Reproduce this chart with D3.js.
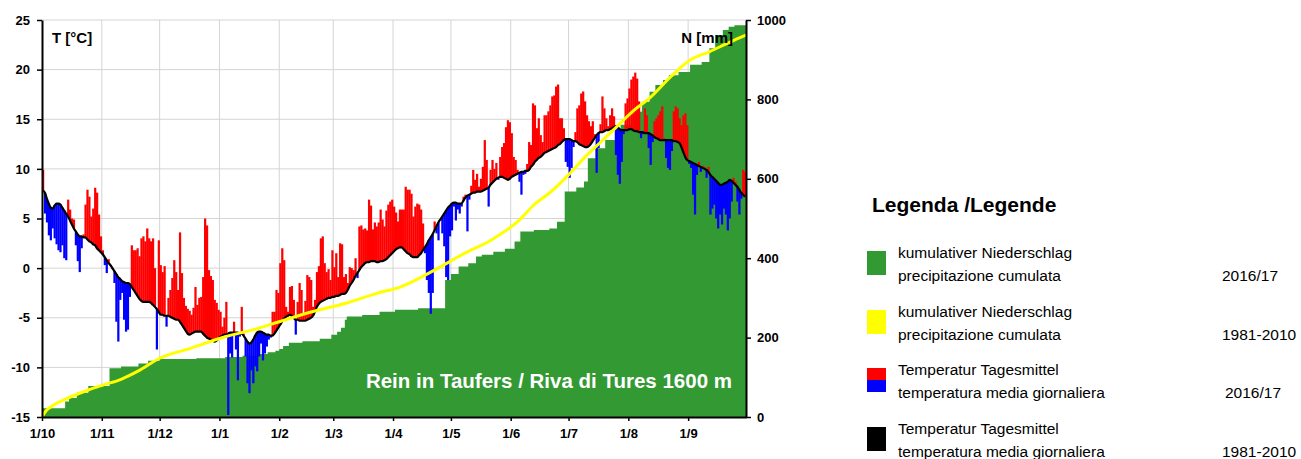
<!DOCTYPE html>
<html lang="de">
<head>
<meta charset="UTF-8">
<title>Rein in Taufers / Riva di Tures 2016/17</title>
<script src="https://d3js.org/d3.v7.min.js"></script>
<style>
  body { margin: 0; background: #fff; font-family: "Liberation Sans", Arial, sans-serif; }
  svg { display: block; }
</style>
</head>
<body>
<div id="chart"></div>
<script>
// Monatsanfänge (Tag ab 1. Oktober) und Beschriftung
const monthDays = [0, 31, 61, 92, 123, 151, 182, 212, 243, 273, 304, 335];
const monthLabels = ["1/10", "1/11", "1/12", "1/1", "1/2", "1/3", "1/4", "1/5", "1/6", "1/7", "1/8", "1/9"];
const tempTicks = [-15, -10, -5, 0, 5, 10, 15, 20, 25];
const precipTicks = [0, 200, 400, 600, 800, 1000];

// Tagesmittel 1981-2010 (°C), 1.10. - 30.9.
const tempClim = [
  7.8,7.6,7.0,6.5,6.1,6.0,6.3,6.5,6.5,6.4,6.1,5.8,5.5,5.2,4.8,4.4,4.0,3.7,3.4,3.2,3.2,3.1,3.1,2.9,2.7,2.6,2.4,2.3,2.0,1.8,1.6,
  1.4,1.1,0.8,0.5,0.3,0.0,-0.3,-0.6,-0.9,-1.1,-1.3,-1.4,-1.5,-1.5,-1.6,-1.9,-2.2,-2.5,-2.8,-3.1,-3.3,-3.4,-3.4,-3.4,-3.4,-3.5,-3.7,-3.9,-4.1,-4.4,
  -4.7,-4.7,-4.8,-4.8,-4.8,-4.9,-5.0,-5.1,-5.2,-5.2,-5.4,-5.7,-6.0,-6.3,-6.6,-6.7,-6.6,-6.5,-6.4,-6.4,-6.4,-6.4,-6.6,-6.8,-7.0,-7.1,-7.2,-7.3,-7.4,-7.3,-7.1,
  -6.9,-6.8,-6.7,-6.7,-6.6,-6.5,-6.5,-6.5,-6.5,-6.5,-6.6,-6.6,-6.8,-7.1,-7.4,-7.6,-7.5,-7.2,-6.8,-6.5,-6.4,-6.4,-6.5,-6.6,-6.7,-6.7,-6.8,-6.8,-6.6,-6.3,-6.0,
  -5.7,-5.4,-5.1,-4.9,-4.8,-4.7,-4.8,-5.0,-5.2,-5.2,-5.3,-5.3,-5.3,-5.3,-5.2,-5.1,-5.0,-4.8,-4.4,-3.9,-3.6,-3.4,-3.3,-3.2,-3.1,-3.0,-3.0,-2.9,
  -2.9,-2.8,-2.8,-2.7,-2.6,-2.6,-2.5,-2.2,-1.8,-1.5,-1.2,-0.8,-0.5,-0.2,0.1,0.3,0.5,0.6,0.6,0.7,0.7,0.7,0.6,0.6,0.7,0.7,0.8,0.9,1.1,1.3,1.5,
  1.7,1.9,2.0,2.1,2.1,1.9,1.7,1.5,1.4,1.2,1.1,1.1,1.1,1.3,1.5,1.8,2.1,2.4,2.8,3.1,3.4,3.8,4.2,4.6,4.9,5.2,5.5,5.8,6.1,6.3,
  6.5,6.6,6.6,6.5,6.5,6.5,6.8,7.1,7.3,7.4,7.5,7.6,7.6,7.7,7.7,7.7,7.8,7.9,8.0,8.1,8.4,8.6,8.8,9.0,9.1,9.2,9.2,9.1,9.0,8.9,9.0,
  9.2,9.3,9.4,9.5,9.6,9.7,9.7,9.8,9.8,9.9,10.2,10.4,10.7,10.9,11.1,11.2,11.4,11.6,11.7,11.8,11.9,12.0,12.1,12.2,12.4,12.5,12.7,12.9,13.0,13.0,
  13.0,12.9,12.8,12.8,12.7,12.5,12.4,12.3,12.2,12.2,12.3,12.5,12.8,13.1,13.4,13.6,13.7,13.7,13.8,13.9,13.9,14.0,14.1,14.2,14.3,14.2,14.0,13.9,13.9,13.9,13.9,
  14.0,14.0,13.9,13.8,13.8,13.7,13.7,13.7,13.6,13.6,13.6,13.5,13.4,13.2,13.1,13.0,12.9,12.9,12.9,12.9,12.9,12.9,12.9,12.8,12.8,12.7,12.6,12.2,11.7,11.2,10.9,
  10.8,10.7,10.6,10.5,10.4,10.3,10.2,10.1,10.0,9.9,9.7,9.4,9.2,9.0,8.8,8.6,8.4,8.4,8.5,8.6,8.7,8.9,8.8,8.6,8.4,8.2,7.9,7.6,7.4,7.2
];

// Tagesmittel 2016/17 (°C)
const tempDaily = [
  9.9,5.5,4.6,3.3,2.8,4.0,3.0,2.4,1.8,1.6,2.3,1.0,0.8,6.9,5.9,5.0,4.9,2.3,0.7,-0.4,2.0,3.4,6.4,7.9,7.2,5.2,6.0,8.1,7.6,5.4,3.2,
  1.8,0.3,-0.5,0.9,0.2,-0.1,-1.5,-5.4,-7.4,-3.2,-2.5,-5.2,-6.4,-6.2,-2.9,2.3,1.8,1.8,2.0,1.2,3.0,3.2,2.7,4.0,3.0,2.7,3.0,0.0,-8.2,2.8,
  0.3,-0.4,0.2,-5.9,-3.0,-2.2,-1.0,0.8,-0.4,-2.2,3.6,-0.5,-3.0,-3.8,-4.1,-4.3,-4.7,-4.0,-1.9,-3.7,-3.0,-2.9,-0.9,5.0,4.3,-0.2,-0.8,-1.2,-3.2,-3.5,-4.2,
  -4.4,-5.9,-5.0,-3.4,-14.8,-8.6,-9.0,-5.4,-8.2,-11.3,-6.9,-3.9,-6.6,-8.9,-11.6,-12.6,-10.3,-11.6,-9.9,-10.4,-8.9,-7.6,-9.3,-8.6,-7.9,-7.2,-7.0,-4.4,-4.4,-2.2,-2.5,
  0.5,2.0,0.8,-3.9,-4.4,-1.9,-1.8,-3.2,-6.7,-3.4,-1.5,-2.2,-4.6,-3.3,-0.7,-0.9,-1.2,-3.9,-3.2,-0.4,0.2,3.0,3.2,0.5,-0.4,-0.1,-1.2,1.8,
  0.1,1.5,-0.9,2.5,2.4,-0.9,-0.6,-1.5,0.1,0.0,-0.2,1.0,-1.0,4.2,4.3,3.9,4.0,3.8,6.9,6.3,3.9,4.6,4.2,4.6,5.9,4.9,4.2,5.8,6.4,6.7,6.9,
  6.2,5.6,4.7,5.9,5.9,5.9,8.2,7.9,7.9,7.5,5.2,6.2,6.5,6.4,5.9,4.5,1.5,-1.2,-2.5,-4.6,-2.5,4.7,3.5,2.8,4.8,3.5,2.2,-0.9,-1.2,3.2,
  3.8,6.2,4.8,5.9,5.5,6.2,7.2,7.4,3.7,6.9,8.3,9.9,8.9,9.5,8.2,9.0,10.2,12.9,10.9,6.2,9.9,10.9,10.0,10.6,8.9,11.2,12.2,12.6,14.2,14.9,14.7,
  13.6,11.2,10.9,9.9,8.7,7.4,9.4,9.5,10.5,12.7,12.4,16.6,16.4,14.1,15.1,13.4,12.7,15.4,15.4,15.8,16.4,17.3,17.4,18.3,18.5,15.1,15.1,14.1,10.7,10.2,
  9.1,10.1,12.2,13.7,16.1,16.4,17.6,17.8,16.8,15.4,14.8,14.3,14.8,13.5,9.6,12.1,14.5,17.3,16.1,15.1,14.3,15.4,16.1,15.3,11.4,9.4,8.5,10.7,13.5,16.6,17.1,
  18.1,19.0,19.3,19.7,19.1,16.8,13.1,13.5,16.1,15.4,12.1,10.4,12.7,14.8,15.1,15.4,15.8,16.3,13.1,11.1,10.1,9.9,11.8,15.8,16.3,16.1,15.1,14.4,15.4,15.6,14.4,
  10.5,10.1,7.4,5.4,9.4,10.7,9.7,10.3,10.2,9.1,10.2,5.4,6.0,6.4,5.0,4.0,5.4,4.4,6.0,5.4,3.8,5.0,6.7,9.1,8.7,6.7,5.4,7.0,9.9,9.7
];

// Niederschlagstage 2016/17 (Tag ab 1.10.) und Menge (mm)
const rainDay = [0,12,14,18,24,35,41,50,55,61,80,95,104,113,117,121,123,125,128,135,144,150,153,155,157,158,166,175,183,195,
  209,212,216,221,225,228,234,240,245,248,255,263,267,271,277,281,283,287,292,297,300,306,308,311,315,318,322,325,330,336,342,346,349,353,356,359];
const rainMm = [22,17,9,13,17,45,4,8,7,4,2,3,3,5,4,4,4,8,8,4,6,10,8,10,20,8,4,8,5,4,
  71,15,19,8,17,5,7,8,18,25,4,4,17,76,10,15,59,25,21,25,13,25,8,25,25,17,13,12,8,18,7,35,33,13,8,4];

// kumulativer Niederschlag 1981-2010 (mm)
const climRainDay = [0,2,5,10,15,24,32,41,50,61,77,95,112,123,140,157,174,186,202,219,233,247,255,264,273,281,290,299,307,315,326,336,346,357,365];
const climRainMm  = [0,15,27,40,51,68,81,95,116,148,173,202,223,240,265,286,312,328,366,412,446,494,534,568,610,652,694,736,773,803,857,899,920,945,962];

const width = 1301, height = 459;
const nDays = tempDaily.length;

const svg = d3.select("#chart").append("svg")
  .attr("width", width)
  .attr("height", height)
  .attr("viewBox", [0, 0, width, height]);

svg.append("rect").attr("width", width).attr("height", height).attr("fill", "#fff");

const x = d3.scaleLinear().domain([0, 365]).range([42, 746]);
const yT = d3.scaleLinear().domain([-15, 25]).range([417, 20]);
const yP = d3.scaleLinear().domain([0, 1000]).range([417, 20]);

// Gitter
const grid = svg.append("g").attr("stroke", "#d4d4d4").attr("stroke-width", 1);
grid.selectAll("line.h").data(tempTicks.slice(1)).join("line")
  .attr("x1", x(0)).attr("x2", x(365))
  .attr("y1", d => yT(d)).attr("y2", d => yT(d));
grid.selectAll("line.v").data(monthDays.slice(1)).join("line")
  .attr("x1", d => x(d)).attr("x2", d => x(d))
  .attr("y1", yT(25)).attr("y2", yT(-15));

// kumulativer Niederschlag 2016/17
const daily = new Array(nDays).fill(0);
rainDay.forEach((d, i) => { daily[d] += rainMm[i]; });
const cum = Array.from(d3.cumsum(daily));
const cumPts = cum.map((v, i) => [i, v]).concat([[365, cum[nDays - 1]]]);

svg.append("path")
  .datum(cumPts)
  .attr("fill", "#339933")
  .attr("d", d3.area()
    .curve(d3.curveStepAfter)
    .x(d => x(d[0]))
    .y0(yP(0))
    .y1(d => yP(d[1])));

// Tagesmittel: Abweichung zum Mittel 1981-2010
svg.append("g").selectAll("rect").data(tempDaily).join("rect")
  .attr("x", (d, i) => x(i))
  .attr("width", (d, i) => x(i + 1) - x(i) + 0.3)
  .attr("y", (d, i) => yT(Math.max(d, tempClim[i])))
  .attr("height", (d, i) => Math.abs(yT(d) - yT(tempClim[i])))
  .attr("fill", (d, i) => d >= tempClim[i] ? "#ff0000" : "#0000ff");

svg.append("path")
  .datum(tempClim)
  .attr("fill", "none")
  .attr("stroke", "#000")
  .attr("stroke-width", 2.2)
  .attr("d", d3.line().curve(d3.curveMonotoneX).x((d, i) => x(i + 0.5)).y(d => yT(d)));

svg.append("path")
  .datum(climRainDay.map((d, i) => [d, climRainMm[i]]))
  .attr("fill", "none")
  .attr("stroke", "#ffff00")
  .attr("stroke-width", 3)
  .attr("d", d3.line().curve(d3.curveMonotoneX).x(d => x(d[0])).y(d => yP(d[1])));

// Achsen
function styleAxis(g) {
  g.attr("font-family", "'Liberation Sans', Arial, sans-serif");
  g.select(".domain").attr("stroke", "#000").attr("stroke-width", 2);
  g.selectAll(".tick line").attr("stroke", "#000").attr("stroke-width", 1.5);
  g.selectAll(".tick text").attr("fill", "#000").attr("font-size", 13).attr("font-weight", "bold");
}

svg.append("g")
  .attr("transform", `translate(${x(0)},0)`)
  .call(d3.axisLeft(yT).tickValues(tempTicks).tickFormat(d => String(d))
    .tickSize(5).tickSizeOuter(0).tickPadding(7))
  .call(styleAxis);

svg.append("g")
  .attr("transform", `translate(${x(365)},0)`)
  .call(d3.axisRight(yP).tickValues(precipTicks).tickFormat(d => String(d))
    .tickSize(5).tickSizeOuter(0).tickPadding(6))
  .call(styleAxis);

svg.append("g")
  .attr("transform", `translate(0,${yT(-15)})`)
  .call(d3.axisBottom(x).tickValues(monthDays).tickFormat((d, i) => monthLabels[i])
    .tickSize(4).tickSizeOuter(0).tickPadding(8))
  .call(styleAxis);

// Achsentitel
svg.append("text").attr("x", 52).attr("y", 43)
  .attr("font-size", 15).attr("font-weight", "bold").text("T [°C]");
svg.append("text").attr("x", 733).attr("y", 43).attr("text-anchor", "end")
  .attr("font-size", 15).attr("font-weight", "bold").text("N [mm]");

svg.append("text").attr("x", 732).attr("y", 388).attr("text-anchor", "end")
  .attr("font-size", 20.5).attr("font-weight", "bold").attr("fill", "#fff")
  .text("Rein in Taufers / Riva di Tures 1600 m");

// Legende
const legend = svg.append("g").attr("font-size", 15.5);
legend.append("text").attr("x", 872).attr("y", 212)
  .attr("font-size", 21).attr("font-weight", "bold").text("Legenda /Legende");

const legendItems = [
  { colors: ["#339933"], l1: "kumulativer Niederschlag", l2: "precipitazione cumulata", period: "2016/17", y: 251, px: 1222 },
  { colors: ["#ffff00"], l1: "kumulativer Niederschlag", l2: "precipitazione cumulata", period: "1981-2010", y: 310, px: 1222 },
  { colors: ["#ff0000", "#0000ff"], l1: "Temperatur Tagesmittel", l2: "temperatura media giornaliera", period: "2016/17", y: 368, px: 1225 },
  { colors: ["#000000"], l1: "Temperatur Tagesmittel", l2: "temperatura media giornaliera", period: "1981-2010", y: 427, px: 1222 }
];

legendItems.forEach(it => {
  const h = 24 / it.colors.length;
  it.colors.forEach((c, k) => {
    legend.append("rect").attr("x", 867).attr("y", it.y + k * h)
      .attr("width", 19).attr("height", h + (k < it.colors.length - 1 ? 0.5 : 0)).attr("fill", c);
  });
  legend.append("text").attr("x", 898).attr("y", it.y + 7).text(it.l1);
  legend.append("text").attr("x", 898).attr("y", it.y + 30).text(it.l2);
  legend.append("text").attr("x", it.px).attr("y", it.y + 30).text(it.period);
});
</script>
</body>
</html>
